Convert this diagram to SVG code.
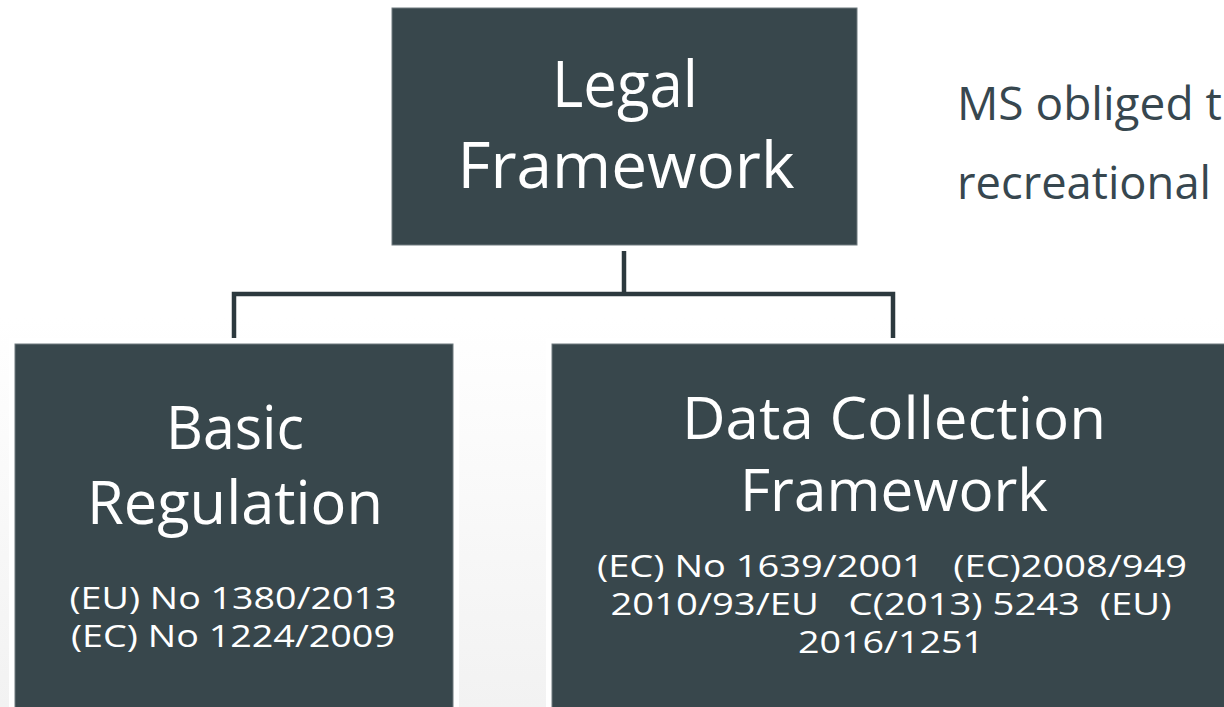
<svg xmlns="http://www.w3.org/2000/svg" width="1224" height="707" viewBox="0 0 1224 707">
  <defs>
    <linearGradient id="bgFade" x1="0" y1="0" x2="0" y2="1">
      <stop offset="0.45" stop-color="#ffffff"/>
      <stop offset="1" stop-color="#f2f2f2"/>
    </linearGradient>
    <style>
      .box { fill: #38474c; stroke: #6f7b7f; stroke-width: 1; }
      .halo { fill: #ffffff; }
      .big { font-family: "Open Sans", "Noto Sans", sans-serif; fill: #ffffff; text-anchor: middle; }
      .small { font-family: "Open Sans", "Noto Sans", sans-serif; fill: #ffffff; text-anchor: middle; font-size: 31px; }
      .note { font-family: "Open Sans", "Noto Sans", sans-serif; fill: #37474f; font-size: 46px; }
      .link { fill: none; stroke: #2c393e; stroke-width: 4.5; stroke-linejoin: miter; }
    </style>
  </defs>

  <!-- page background -->
  <rect x="0" y="0" width="1224" height="707" fill="url(#bgFade)"/>

  <!-- connectors -->
  <g id="connectors">
    <path class="link" d="M624,251 V294"/>
    <path class="link" d="M234,338 V294 H893 V338"/>
  </g>

  <!-- top node -->
  <g id="node-legal-framework">
    <rect class="box" x="392" y="8" width="465" height="237"/>
    <text class="big" x="625" y="107" font-size="64" textLength="146" lengthAdjust="spacingAndGlyphs">Legal</text>
    <text class="big" x="626" y="188" font-size="64" textLength="337" lengthAdjust="spacingAndGlyphs">Framework</text>
  </g>

  <!-- left child -->
  <g id="node-basic-regulation">
    <rect class="halo" x="9" y="338" width="450" height="375"/>
    <rect class="box" x="15" y="344" width="438" height="370"/>
    <text class="big" x="235" y="449" font-size="61" textLength="138" lengthAdjust="spacingAndGlyphs">Basic</text>
    <text class="big" x="235" y="524" font-size="61" textLength="296" lengthAdjust="spacingAndGlyphs">Regulation</text>
    <text class="small" x="233" y="609" textLength="327" lengthAdjust="spacingAndGlyphs">(EU) No 1380/2013</text>
    <text class="small" x="233" y="647" textLength="324" lengthAdjust="spacingAndGlyphs">(EC) No 1224/2009</text>
  </g>

  <!-- right child -->
  <g id="node-data-collection">
    <rect class="halo" x="546" y="338" width="700" height="375"/>
    <rect class="box" x="552" y="344" width="690" height="370"/>
    <text class="big" x="894" y="439" font-size="58" textLength="424" lengthAdjust="spacingAndGlyphs">Data Collection</text>
    <text class="big" x="894" y="511" font-size="58" textLength="308" lengthAdjust="spacingAndGlyphs">Framework</text>
    <text class="small" x="892" y="577" xml:space="preserve" textLength="590" lengthAdjust="spacingAndGlyphs">(EC) No 1639/2001   (EC)2008/949</text>
    <text class="small" x="891" y="615" xml:space="preserve" textLength="561" lengthAdjust="spacingAndGlyphs">2010/93/EU   C(2013) 5243  (EU)</text>
    <text class="small" x="891" y="653" textLength="186" lengthAdjust="spacingAndGlyphs">2016/1251</text>
  </g>

  <!-- side note -->
  <g id="note">
    <text class="note" x="957" y="120">MS obliged t</text>
    <text class="note" x="957" y="199" textLength="254" lengthAdjust="spacingAndGlyphs">recreational</text>
  </g>
</svg>
